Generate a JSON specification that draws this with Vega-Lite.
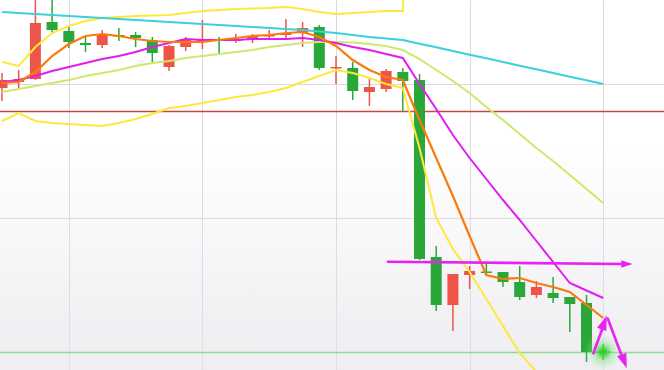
{
  "$schema": "https://vega.github.io/schema/vega-lite/v6.json",
  "width": 664,
  "height": 370,
  "autosize": {"type": "none"},
  "padding": 0,
  "background": "#ffffff",
  "config": {"view": {"stroke": null}},
  "datasets": {
    "candles": [
      {"i": 0, "open": 282, "close": 290, "high": 297, "low": 269},
      {"i": 1, "open": 288, "close": 291, "high": 300, "low": 282},
      {"i": 2, "open": 291, "close": 347, "high": 375, "low": 290},
      {"i": 3, "open": 348, "close": 340, "high": 373, "low": 337},
      {"i": 4, "open": 339, "close": 328, "high": 345, "low": 322},
      {"i": 5, "open": 327, "close": 325, "high": 333, "low": 318},
      {"i": 6, "open": 325, "close": 336, "high": 340, "low": 322},
      {"i": 7, "open": 335, "close": 333.5, "high": 342, "low": 329},
      {"i": 8, "open": 335, "close": 332, "high": 338, "low": 323},
      {"i": 9, "open": 330, "close": 317, "high": 333, "low": 308},
      {"i": 10, "open": 303, "close": 324, "high": 325, "low": 299},
      {"i": 11, "open": 323, "close": 331, "high": 333, "low": 319},
      {"i": 12, "open": 329, "close": 330.5, "high": 350, "low": 321},
      {"i": 13, "open": 331, "close": 329.5, "high": 333, "low": 315},
      {"i": 14, "open": 329, "close": 331, "high": 336, "low": 327},
      {"i": 15, "open": 331, "close": 334, "high": 336, "low": 327},
      {"i": 16, "open": 333.5, "close": 335, "high": 340, "low": 330},
      {"i": 17, "open": 335, "close": 337, "high": 351, "low": 332},
      {"i": 18, "open": 337, "close": 342, "high": 348, "low": 323},
      {"i": 19, "open": 343, "close": 302, "high": 345, "low": 300},
      {"i": 20, "open": 301.5, "close": 303, "high": 314, "low": 286},
      {"i": 21, "open": 302, "close": 279, "high": 308, "low": 270},
      {"i": 22, "open": 278, "close": 283, "high": 291, "low": 264},
      {"i": 23, "open": 281, "close": 299, "high": 301, "low": 278},
      {"i": 24, "open": 298, "close": 289, "high": 302, "low": 258},
      {"i": 25, "open": 290, "close": 111, "high": 296, "low": 110},
      {"i": 26, "open": 113, "close": 65, "high": 124, "low": 59},
      {"i": 27, "open": 65, "close": 96, "high": 96, "low": 39},
      {"i": 28, "open": 95, "close": 99, "high": 104, "low": 81},
      {"i": 29, "open": 98.5, "close": 97, "high": 106, "low": 94},
      {"i": 30, "open": 98, "close": 88, "high": 98, "low": 83},
      {"i": 31, "open": 88, "close": 73, "high": 104, "low": 70},
      {"i": 32, "open": 75, "close": 83, "high": 89, "low": 72},
      {"i": 33, "open": 77, "close": 72, "high": 93, "low": 67},
      {"i": 34, "open": 73, "close": 66, "high": 73, "low": 38},
      {"i": 35, "open": 67, "close": 18, "high": 75, "low": 8}
    ],
    "upper": [
      {"i":0,"v":308},{"i":1,"v":304},{"i":2,"v":323},{"i":3,"v":337},{"i":4,"v":344},{"i":5,"v":349},{"i":6,"v":352},{"i":7,"v":353},{"i":8,"v":354},{"i":9,"v":354.5},{"i":10,"v":355},{"i":11,"v":357},{"i":12,"v":359},{"i":13,"v":360},{"i":14,"v":361},{"i":15,"v":361.5},{"i":16,"v":362},{"i":17,"v":363},{"i":18,"v":361},{"i":19,"v":358},{"i":20,"v":356},{"i":21,"v":357},{"i":22,"v":358},{"i":23,"v":359},{"i":24,"v":359},{"i":25,"v":800}
    ],
    "lower": [
      {"i":0,"v":249},{"i":1,"v":257},{"i":2,"v":249},{"i":3,"v":247},{"i":4,"v":246},{"i":5,"v":245},{"i":6,"v":244},{"i":7,"v":247},{"i":8,"v":251},{"i":9,"v":256},{"i":10,"v":262},{"i":11,"v":264},{"i":12,"v":267},{"i":13,"v":270},{"i":14,"v":273},{"i":15,"v":275},{"i":16,"v":278},{"i":17,"v":282},{"i":18,"v":288},{"i":19,"v":294},{"i":20,"v":300},{"i":21,"v":297},{"i":22,"v":292},{"i":23,"v":286},{"i":24,"v":282},{"i":25,"v":222},{"i":26,"v":152},{"i":27,"v":121},{"i":28,"v":98},{"i":29,"v":71},{"i":30,"v":44},{"i":31,"v":17},{"i":32,"v":-2},{"i":33,"v":-25}
    ],
    "mid": [
      {"i":0,"v":278},{"i":1,"v":281},{"i":2,"v":284},{"i":3,"v":287},{"i":4,"v":290},{"i":5,"v":294},{"i":6,"v":297},{"i":7,"v":300},{"i":8,"v":304},{"i":9,"v":307},{"i":10,"v":309},{"i":11,"v":312},{"i":12,"v":314},{"i":13,"v":316},{"i":14,"v":318},{"i":15,"v":320},{"i":16,"v":323},{"i":17,"v":325},{"i":18,"v":327},{"i":19,"v":328},{"i":20,"v":328},{"i":21,"v":327.5},{"i":22,"v":326},{"i":23,"v":324},{"i":24,"v":320},{"i":25,"v":311},{"i":26,"v":300},{"i":27,"v":289},{"i":28,"v":277},{"i":29,"v":263},{"i":30,"v":250},{"i":31,"v":236},{"i":32,"v":222},{"i":33,"v":209},{"i":34,"v":195},{"i":35,"v":181},{"i":36,"v":167}
    ],
    "cyan": [
      {"i":0,"v":358},{"i":1,"v":357},{"i":2,"v":356},{"i":3,"v":355},{"i":4,"v":354},{"i":5,"v":353},{"i":6,"v":352},{"i":7,"v":351},{"i":8,"v":350},{"i":9,"v":349},{"i":10,"v":348},{"i":11,"v":347},{"i":12,"v":346},{"i":13,"v":345},{"i":14,"v":344},{"i":15,"v":343},{"i":16,"v":342},{"i":17,"v":341},{"i":18,"v":340},{"i":19,"v":338.5},{"i":20,"v":337},{"i":21,"v":335},{"i":22,"v":333},{"i":23,"v":331.5},{"i":24,"v":330},{"i":25,"v":326.3},{"i":26,"v":322.7},{"i":27,"v":319},{"i":28,"v":315.3},{"i":29,"v":311.7},{"i":30,"v":308},{"i":31,"v":304.3},{"i":32,"v":300.7},{"i":33,"v":297},{"i":34,"v":293.3},{"i":35,"v":289.7},{"i":36,"v":286}
    ],
    "magenta": [
      {"i":0,"v":288},{"i":1,"v":290},{"i":2,"v":294},{"i":3,"v":299},{"i":4,"v":303},{"i":5,"v":307},{"i":6,"v":311},{"i":7,"v":314},{"i":8,"v":318},{"i":9,"v":323},{"i":10,"v":327},{"i":11,"v":331},{"i":12,"v":330},{"i":13,"v":330},{"i":14,"v":330},{"i":15,"v":331},{"i":16,"v":331},{"i":17,"v":331},{"i":18,"v":332},{"i":19,"v":330},{"i":20,"v":327},{"i":21,"v":323},{"i":22,"v":320},{"i":23,"v":316},{"i":24,"v":312},{"i":25,"v":286},{"i":26,"v":261},{"i":27,"v":235},{"i":28,"v":212},{"i":29,"v":191},{"i":30,"v":170},{"i":31,"v":150},{"i":32,"v":129},{"i":33,"v":108},{"i":34,"v":87},{"i":35,"v":79.5},{"i":36,"v":72}
    ],
    "orange": [
      {"i":0,"v":287},{"i":1,"v":288},{"i":2,"v":298},{"i":3,"v":314},{"i":4,"v":326},{"i":5,"v":334},{"i":6,"v":336},{"i":7,"v":334},{"i":8,"v":331},{"i":9,"v":329},{"i":10,"v":328},{"i":11,"v":328},{"i":12,"v":328},{"i":13,"v":330},{"i":14,"v":332},{"i":15,"v":334},{"i":16,"v":335},{"i":17,"v":337},{"i":18,"v":338},{"i":19,"v":333},{"i":20,"v":324},{"i":21,"v":310},{"i":22,"v":300},{"i":23,"v":293},{"i":24,"v":290},{"i":25,"v":250},{"i":26,"v":212},{"i":27,"v":174},{"i":28,"v":134},{"i":29,"v":95},{"i":30,"v":91},{"i":31,"v":92},{"i":32,"v":87},{"i":33,"v":83},{"i":34,"v":78},{"i":35,"v":65},{"i":36,"v":52}
    ],
    "levels": [
      {"level": "resistance", "v": 258.5},
      {"level": "last", "v": 17.5}
    ],
    "shafts": [
      {"arrow": "h", "i": 23.11, "v": 108.3},
      {"arrow": "h", "i": 37.2, "v": 106},
      {"arrow": "up", "i": 35.41, "v": 16.7},
      {"arrow": "up", "i": 36.12, "v": 49},
      {"arrow": "down", "i": 36.27, "v": 51.5},
      {"arrow": "down", "i": 37.25, "v": 8}
    ],
    "heads": [
      {"arrow": "h", "i": 37.76, "v": 106},
      {"arrow": "up", "i": 36.21, "v": 54.5},
      {"arrow": "down", "i": 37.41, "v": 1.7}
    ],
    "glow": [{"i": 36, "v": 18}],
    "bg": [{"x0": -1, "x1": 41, "y0": -10, "y1": 225}]
  },
  "layer": [
    {
      "data": {"name": "bg"},
      "mark": {"type": "rect", "clip": true, "color": {"gradient": "linear", "x1": 0, "y1": 0, "x2": 0, "y2": 1, "stops": [{"offset": 0, "color": "rgba(225,225,232,0)"}, {"offset": 0.4, "color": "rgba(225,225,232,0.25)"}, {"offset": 0.7, "color": "rgba(225,225,232,0.45)"}, {"offset": 1, "color": "rgba(225,225,232,0.55)"}]}},
      "encoding": {
        "x": {"field": "x0", "type": "quantitative", "scale": {"domain": [-0.12, 39.64], "nice": false, "zero": false, "padding": 0}, "axis": {"grid": true, "values": [4, 12, 20, 28, 36], "labels": false, "ticks": false, "domain": false, "title": null, "gridColor": "#dadade", "gridWidth": 1}},
        "x2": {"field": "x1"},
        "y": {"field": "y0", "type": "quantitative", "scale": {"domain": [0, 370], "nice": false, "zero": false, "padding": 0}, "axis": {"grid": true, "values": [18, 152, 286], "labels": false, "ticks": false, "domain": false, "title": null, "gridColor": "#dadade", "gridWidth": 1}},
        "y2": {"field": "y1"}
      }
    },
    {
      "data": {"name": "levels"},
      "transform": [{"filter": "datum.level === 'resistance'"}],
      "mark": {"type": "rule", "color": "#c9463a", "strokeWidth": 1.5},
      "encoding": {"y": {"field": "v", "type": "quantitative"}}
    },
    {
      "data": {"name": "levels"},
      "transform": [{"filter": "datum.level === 'last'"}],
      "mark": {"type": "rule", "color": "#8fdb8f", "strokeWidth": 1.5},
      "encoding": {"y": {"field": "v", "type": "quantitative"}}
    },
    {
      "data": {"name": "candles"},
      "mark": {"type": "rule", "strokeWidth": 1.5, "clip": true},
      "encoding": {
        "x": {"field": "i", "type": "quantitative"},
        "y": {"field": "high", "type": "quantitative"},
        "y2": {"field": "low"},
        "color": {"condition": {"test": "datum.close >= datum.open", "value": "#ec5548"}, "value": "#29a839"}
      }
    },
    {
      "data": {"name": "candles"},
      "mark": {"type": "bar", "width": 11, "clip": true},
      "encoding": {
        "x": {"field": "i", "type": "quantitative", "scale": {"padding": 0}},
        "y": {"field": "open", "type": "quantitative"},
        "y2": {"field": "close"},
        "color": {"condition": {"test": "datum.close >= datum.open", "value": "#ec5548"}, "value": "#29a839"}
      }
    },
    {
      "data": {"name": "upper"},
      "mark": {"type": "line", "color": "#ffe83c", "strokeWidth": 2, "clip": true},
      "encoding": {"x": {"field": "i", "type": "quantitative"}, "y": {"field": "v", "type": "quantitative"}}
    },
    {
      "data": {"name": "lower"},
      "mark": {"type": "line", "color": "#ffe83c", "strokeWidth": 2, "clip": true},
      "encoding": {"x": {"field": "i", "type": "quantitative"}, "y": {"field": "v", "type": "quantitative"}}
    },
    {
      "data": {"name": "mid"},
      "mark": {"type": "line", "color": "#cfe86c", "strokeWidth": 2, "clip": true},
      "encoding": {"x": {"field": "i", "type": "quantitative"}, "y": {"field": "v", "type": "quantitative"}}
    },
    {
      "data": {"name": "cyan"},
      "mark": {"type": "line", "color": "#3ccfdc", "strokeWidth": 2, "clip": true},
      "encoding": {"x": {"field": "i", "type": "quantitative"}, "y": {"field": "v", "type": "quantitative"}}
    },
    {
      "data": {"name": "magenta"},
      "mark": {"type": "line", "color": "#e21cf0", "strokeWidth": 2, "clip": true},
      "encoding": {"x": {"field": "i", "type": "quantitative"}, "y": {"field": "v", "type": "quantitative"}}
    },
    {
      "data": {"name": "orange"},
      "mark": {"type": "line", "color": "#fb7a0c", "strokeWidth": 2.2, "clip": true},
      "encoding": {"x": {"field": "i", "type": "quantitative"}, "y": {"field": "v", "type": "quantitative"}}
    },
    {
      "data": {"name": "glow"},
      "mark": {"type": "point", "shape": "circle", "filled": true, "size": 1400, "strokeWidth": 0, "fill": {"gradient": "radial", "x1": 0.5, "y1": 0.5, "r1": 0, "x2": 0.5, "y2": 0.5, "r2": 0.5, "stops": [{"offset": 0, "color": "#22cc22"}, {"offset": 0.15, "color": "rgba(50,205,50,0.9)"}, {"offset": 0.45, "color": "rgba(120,225,120,0.45)"}, {"offset": 1, "color": "rgba(170,240,170,0)"}]}, "opacity": 1},
      "encoding": {"x": {"field": "i", "type": "quantitative"}, "y": {"field": "v", "type": "quantitative"}}
    },
    {
      "data": {"name": "glow"},
      "mark": {"type": "point", "shape": "M0,-1L0,1M-1,0L1,0", "filled": false, "size": 256, "stroke": "#3cc83c", "strokeWidth": 1.2, "opacity": 1},
      "encoding": {"x": {"field": "i", "type": "quantitative"}, "y": {"field": "v", "type": "quantitative"}}
    },
    {
      "data": {"name": "shafts"},
      "mark": {"type": "line", "color": "#e822f0", "strokeWidth": 2.6, "strokeCap": "round"},
      "encoding": {"x": {"field": "i", "type": "quantitative"}, "y": {"field": "v", "type": "quantitative"}, "detail": {"field": "arrow"}}
    },
    {
      "data": {"name": "heads"},
      "transform": [{"filter": "datum.arrow === 'h'"}],
      "mark": {"type": "point", "shape": "M0,0L0.8,2.4L-0.8,2.4Z", "filled": true, "size": 90, "angle": 90, "color": "#e822f0", "opacity": 1, "strokeWidth": 0},
      "encoding": {"x": {"field": "i", "type": "quantitative"}, "y": {"field": "v", "type": "quantitative"}}
    },
    {
      "data": {"name": "heads"},
      "transform": [{"filter": "datum.arrow === 'up'"}],
      "mark": {"type": "point", "shape": "M0,0L0.8,2.4L-0.8,2.4Z", "filled": true, "size": 150, "angle": 20, "color": "#e822f0", "opacity": 1, "strokeWidth": 0},
      "encoding": {"x": {"field": "i", "type": "quantitative"}, "y": {"field": "v", "type": "quantitative"}}
    },
    {
      "data": {"name": "heads"},
      "transform": [{"filter": "datum.arrow === 'down'"}],
      "mark": {"type": "point", "shape": "M0,0L0.8,2.4L-0.8,2.4Z", "filled": true, "size": 150, "angle": 160, "color": "#e822f0", "opacity": 1, "strokeWidth": 0},
      "encoding": {"x": {"field": "i", "type": "quantitative"}, "y": {"field": "v", "type": "quantitative"}}
    }
  ]
}
